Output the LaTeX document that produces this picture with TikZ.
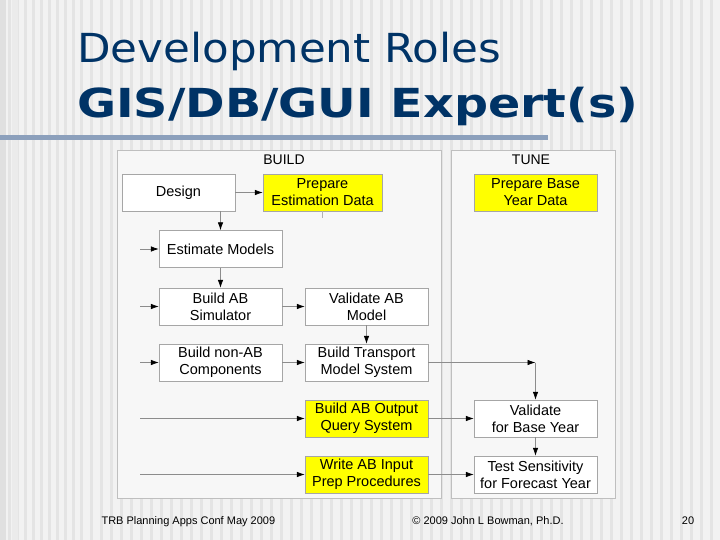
\documentclass[tikz,border=0pt]{standalone}
\usepackage{fontspec}
\setmainfont{Liberation Sans}
\newfontfamily\titlefont{DejaVu Sans}
\usetikzlibrary{arrows.meta}
\definecolor{ttl}{RGB}{0,51,102}
\definecolor{bg}{RGB}{242,242,242}
\definecolor{stripe}{RGB}{228,228,228}
\definecolor{rulec}{RGB}{140,160,188}
\definecolor{yel}{RGB}{255,255,0}
\tikzset{
 box/.style={draw=black!35, fill=white, minimum width=123pt, minimum height=37pt, align=center, font=\fontsize{14.5}{17}\selectfont, inner sep=1pt},
 ybox/.style={box, fill=yel},
 panel/.style={draw=black!25, fill=white!40!bg},
 con/.style={draw=black!45, line width=0.7pt, -{Latex[length=8pt,width=5.5pt,black]}},
}
\begin{document}
\begin{tikzpicture}[x=1pt,y=-1pt]
\useasboundingbox (0,0) rectangle (720,540);
\fill[bg] (0,0) rectangle (720,540);
\foreach \x in {0,8,16,24,32,40,48,56,64,72,80,90,100,110,120,130,140,150,160,170,180,190,200,210,220,230,240,250,260,270,280,290,300,310,320,330,340,350,360,370,380,390,400,410,420,430,440,450,460,470,480,490,500,510,520,530,540,550,560,570,580,590,600,610,620,630,640,650,660,670,680,690,700,710}
  \fill[stripe] (\x,0) rectangle ++(3,540);
\fill[black!12] (0,0) rectangle (6,540);
\fill[black!8] (12,0) rectangle (18,540);
\node[anchor=base west, inner sep=0, text=ttl, font=\titlefont\fontsize{40}{44}\selectfont] (t1) at (77,63) {\scalebox{1.09}[1]{Development Roles}};
\node[anchor=base west, inner sep=0, text=ttl, font=\titlefont\bfseries\fontsize{40}{44}\selectfont] (t2) at (77,118) {\scalebox{1.19}[1]{GIS/DB/GUI Expert(s)}};
\fill[rulec] (0,135) rectangle (548,140);
\draw[panel] (117,150) rectangle (441,498);
\draw[panel] (451,150) rectangle (615,498);
\node[font=\fontsize{14}{16}\selectfont] (build) at (284,160) {BUILD};
\node[font=\fontsize{14}{16}\selectfont] (tune) at (531,160) {TUNE};
\node[box, minimum width=113pt] (design) at (178.5,192.5) {Design};
\node[ybox, minimum width=119pt] (prep) at (322.5,192.5) {Prepare\\Estimation Data};
\node[box] (est) at (220.5,249) {Estimate Models};
\node[box] (sim) at (220.5,306.5) {Build AB\\Simulator};
\node[box] (val) at (366.5,306.5) {Validate AB\\Model};
\node[box] (nonab) at (220.5,362.5) {Build non-AB\\Components};
\node[box] (trans) at (366.5,362.5) {Build Transport\\Model System};
\node[ybox] (out) at (366.5,418.5) {Build AB Output\\Query System};
\node[ybox] (inp) at (366.5,474.5) {Write AB Input\\Prep Procedures};
\node[ybox] (base) at (535.5,192.5) {Prepare Base\\Year Data};
\node[box] (vbase) at (535.5,418.5) {Validate\\for Base Year};
\node[box] (test) at (535.5,474.5) {Test Sensitivity\\for Forecast Year};
\coordinate (l1) at (140,249);
\coordinate (l2) at (140,306.5);
\coordinate (l3) at (140,362.5);
\coordinate (l4) at (140,418.5);
\coordinate (l5) at (140,474.5);
\coordinate (stub) at (322.5,218);
\coordinate (tr) at (535.5,362.5);
\draw[con] (design) -- (prep);
\draw[con] (220.5,211) -- (est.north);
\draw[draw=black!30, line width=0.7pt] (prep.south) -- (stub);
\draw[con] (l1) -- (est);
\draw[con] (l2) -- (sim);
\draw[con] (l3) -- (nonab);
\draw[con] (l4) -- (out);
\draw[con] (l5) -- (inp);
\draw[con] (est) -- (sim);
\draw[con] (sim) -- (val);
\draw[con] (nonab) -- (trans);
\draw[con] (val) -- (trans);
\draw[con] (trans) -- (tr);
\draw[con] (tr) -- (vbase);
\draw[con] (out) -- (vbase);
\draw[con] (vbase) -- (test);
\draw[con] (inp) -- (test);
\node[anchor=base west, font=\fontsize{11}{13}\selectfont] (f1) at (98,524) {TRB Planning Apps Conf May 2009};
\node[anchor=base, font=\fontsize{11}{13}\selectfont] (f2) at (488,524) {© 2009 John L Bowman, Ph.D.};
\node[anchor=base, font=\fontsize{11}{13}\selectfont] (f3) at (688,524) {20};
\end{tikzpicture}
\end{document}
